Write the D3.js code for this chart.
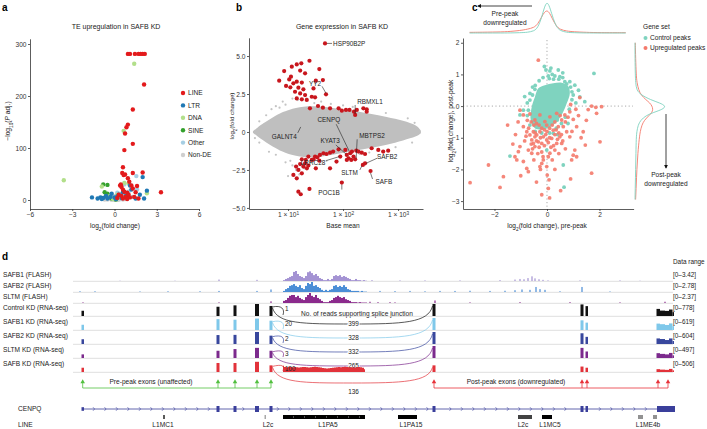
<!DOCTYPE html>
<html><head><meta charset="utf-8">
<script src="https://cdn.jsdelivr.net/npm/d3@7"></script>
<style>
body{margin:0;background:#fff;}
svg text{font-family:"Liberation Sans",Arial,Helvetica,sans-serif;}
</style></head><body>
<svg id="fig" width="707" height="429" xmlns="http://www.w3.org/2000/svg"></svg>
<script>
// ================= DATA =================
// ---- panel a : TE volcano ([log2FC, -log10 Padj]) ----
const teClasses = ["LINE","LTR","DNA","SINE","Other","Non-DE"];
const teNonDE = [[-0.5,1],[-0.3,2],[0,0.5],[0.2,1],[0.4,2],[0.1,3],[-0.1,1.5],[0.3,0.5],[0.6,1],[-0.2,0.3],[0.15,4],[0.45,6],[0.05,8],[0.8,2],[-0.7,1],[0.35,12],[0.55,3]];
const teOther = [[1.55,46],[1.6,20],[1.3,6],[0.2,14],[-0.3,9],[0.5,3],[1.0,16],[0.7,30]];
const teSINE = [[-0.8,30],[-0.5,29],[-0.7,15],[-0.5,12],[-0.4,5],[-0.2,3],[0,2],[0.1,1],[-0.6,8],[-0.9,4]];
const teDNA = [[1.4,262],[0.65,133],[-3.6,38],[0.7,33],[-0.9,26],[2.3,13],[0.4,5],[-0.4,7],[1.0,32],[-0.1,2],[0.2,10]];
const teLTR = [[-1.6,5],[-1.2,3],[-1.0,5],[-0.8,4],[-0.6,8],[-0.5,3],[-0.3,6],[0,5],[0.2,7],[0.3,10],[0.5,4],[0.8,8],[1.1,28],[1.2,20],[1.5,3],[2.0,44],[2.1,3],[2.3,18],[1.8,10],[0.6,15],[-0.2,12],[0.9,4],[-0.9,2],[0.1,2]];
const teLINE = [[0.95,281],[1.1,281],[1.45,281],[1.7,281],[1.85,281],[2.0,281],[2.15,281],[2.1,222],[1.3,174],[0.95,145],[0.85,140],[0.75,128],[1.3,108],[0.7,96],[0.6,63],[0.55,52],[0.75,49],[0.65,48],[1.3,52],[2.0,53],[0.95,42],[1.6,27],[3.3,15],[1.2,28],[0.4,28],[0.5,25],[0.6,20],[0.7,16],[0.9,14],[1.0,10],[0.3,10],[0.5,8],[0.8,6],[1.1,5],[0.2,4],[0.6,3],[1.4,6],[1.7,3],[0.9,2],[1.5,15],[1.3,22],[0.45,30],[1.05,35]];
const aXTicks = [-6,-3,0,3,6];
const aYTicks = [0,100,200,300];

// ---- panel b : MA plot ([baseMean, log2FC]) ----
const cloudBm = [2.3,2.8,3.5,5.4,7.9,10,19,38,76,155,310,620,1260,2200,2600];
const cloudUp = [0.05,0.3,0.55,1.0,1.3,1.45,1.7,1.7,1.55,1.4,1.2,1.0,0.75,0.45,0.08];
const cloudLo = [-0.05,-0.3,-0.55,-1.0,-1.3,-1.45,-1.7,-1.65,-1.45,-1.25,-1.05,-0.85,-0.55,-0.3,-0.08];
const grayPts = [[4,1.1],[5,1.5],[6,1.7],[8,2.0],[12,2.2],[15,2.1],[22,2.2],[9,-2.0],[12,-2.2],[14,-2.5],[11,-1.9],[18,-2.1],[3,0.7],[3,-0.7],[2.5,-0.4],[150,1.65],[600,1.25],[1500,0.9],[1800,-0.7],[300,-1.35],[40,2.0],[60,1.85],[25,-2.0],[7,1.6],[6,-1.5],[10,-2.9],[16,-2.8],[20,-2.4],[30,1.9],[100,1.75],[200,-1.45],[900,-1.0],[2000,0.6],[4.5,-1.3],[50,-1.9],[9,1.8]];
const redUp = [[47,5.83],[6.9,3.38],[8.5,4.01],[10.5,3.46],[11.7,4.30],[14.4,4.45],[17.4,4.52],[16.6,4.04],[24.5,4.69],[37,4.14],[43,3.42],[49,2.48],[9.2,3.03],[11,2.94],[12.5,3.20],[14.4,3.31],[15.4,2.92],[17.8,3.25],[19,2.81],[13.4,2.65],[16.6,2.54],[20.4,2.43],[14.4,2.21],[17.8,2.15],[21.9,2.11],[27,2.32],[31,2.28],[35,1.71],[25,1.56],[43,1.60],[58,1.56],[83,1.56],[95,1.40],[113,1.45],[131,1.45],[158,1.34],[178,1.45],[234,1.56],[269,1.49],[269,1.34],[166,1.12],[32,3.38],[11.3,3.64],[20.4,3.86],[29,2.87]];
const redDown = [[15.4,-2.50],[17.8,-1.80],[20.4,-2.06],[23.4,-1.62],[27,-1.84],[31,-1.62],[34,-1.67],[38,-1.51],[44,-1.40],[50,-1.45],[58,-1.36],[66,-1.29],[83,-1.14],[110,-1.18],[117,-1.51],[126,-1.73],[135,-1.40],[145,-1.29],[155,-1.62],[174,-1.23],[191,-1.29],[219,-1.36],[251,-1.45],[331,-1.07],[437,-1.18],[537,-1.29],[661,-1.23],[229,-2.17],[251,-2.06],[316,-2.57],[95,-3.33],[15.4,-3.93],[17,-4.10],[24.5,-3.75],[12.5,-2.83],[14.4,-3.05],[17.8,-2.72],[22,-2.39],[32,-2.39],[58,-2.39],[19,-2.28],[23.4,-2.21],[89,-1.62],[76,-1.95],[141,-1.84],[166,-1.80],[117,-1.84],[16.6,-2.11],[14,-2.28],[21,-1.84],[29,-1.80],[37,-1.89]];
const geneNames = ["HSP90B2P","YY2","RBMXL1","CENPQ","GALNT4","KYAT3","MBTPS2","LRRC28","SAFB2","SLTM","SAFB","POC1B"];
const geneBm  = [47,49,166,135,17,117,166,89,251,229,316,95];
const geneLfc = [5.83,2.48,1.12,-1.40,0.4,-1.51,-1.80,-1.62,-2.06,-2.17,-2.57,-3.33];
const bXTicks = [10,100,1000];
const bYTicks = [-5,-2.5,0,2.5,5];

// ---- panel c : pre vs post peak ([pre, post]) ----
const coreX = [-0.46,-0.33,-0.08,0.24,0.56,0.81,0.87,0.75,0.62,0.43,0.18,-0.14,-0.46,-0.62,-0.58];
const coreY = [0.29,0.56,0.66,0.72,0.74,0.63,0.40,0.08,-0.18,-0.44,-0.63,-0.74,-0.70,-0.44,-0.02];
const ctrlPts = [[-0.04,1.14],[0.11,1.11],[0.43,1.14],[1.79,1.03],[0.09,0.87],[0.68,0.77],[0.87,0.77],[1.06,0.66],[1.25,0.29],[1.44,0.14],[-0.90,-0.13],[-1.03,-0.28],[-0.46,0.53],[-0.65,0.19],[-0.71,-0.13],[0.39,-0.44],[-1.41,-1.58],[0.62,-1.86],[0.65,-2.56],[0.49,0.93],[0.75,0.56],[-0.39,-0.65],[0.24,-0.86],[-0.01,-1.39],[0.3,0.95],[0.95,0.45],[-0.55,0.35],[1.1,0.1],[0.2,1.0],
  [-0.3,0.8],[-0.15,0.9],[0.05,0.95],[0.25,0.85],[0.45,0.85],[0.6,0.9],[0.75,0.7],[0.9,0.6],[1.0,0.35],[0.95,0.2],[0.85,-0.1],[0.7,-0.35],[0.55,-0.55],[0.35,-0.7],[0.1,-0.85],[-0.2,-0.85],[-0.45,-0.8],[-0.65,-0.6],[-0.75,-0.3],[-0.75,0.1],[-0.65,0.4],[-0.45,0.65],[-0.55,0.6],[0.15,1.2],[-0.1,1.25],[0.6,1.05],[1.2,0.5],[-0.85,0.3],[0.8,-0.55],[0.4,-0.9]];
const upPts = [[-0.33,1.45],[1.25,0.27],[1.70,0.00],[1.86,-0.04],[2.08,-0.02],[1.57,-0.11],[1.89,-0.23],[-1.03,-0.13],[-0.90,-0.28],[0.87,-0.18],[0.68,-0.28],[0.56,-0.44],[0.37,-0.23],[1.00,-0.42],[1.13,-0.65],[1.38,-0.81],[2.02,-1.13],[1.46,-1.23],[1.06,-1.39],[1.00,-1.55],[0.94,-1.70],[1.13,-1.60],[0.49,-0.97],[0.56,-1.18],[0.37,-1.18],[0.30,-1.39],[0.11,-1.49],[0.05,-1.60],[-0.14,-1.70],[-0.20,-1.81],[-0.27,-1.91],[-0.71,-1.39],[-0.58,-1.49],[-1.03,-1.28],[-1.09,-1.44],[-1.22,-1.60],[-1.15,-1.70],[-0.77,-1.97],[-0.71,-2.07],[-1.66,-2.23],[-1.79,-2.57],[-2.23,-1.86],[-2.93,-2.42],[-0.01,-1.91],[0.01,-2.18],[0.08,-2.33],[0.52,-2.67],[1.70,-2.12],[-0.39,-0.91],[-0.27,-0.81],[-0.46,-0.97],[-0.58,-1.07],[-0.65,-0.91],[-0.77,-0.81],[-0.52,-0.81],[-0.14,-0.97],[-0.01,-1.07],[0.18,-1.02],[-0.33,-1.13],[-0.20,-1.18],[-0.52,-1.18],[-0.46,-1.28],[0.24,-0.76],[-0.01,-0.60],[0.43,-0.65],[0.62,-0.65],[0.75,-0.81],[0.87,-0.97],[-0.90,-0.65],[-0.46,-0.44],[-0.27,-0.28],[0.11,-0.34],[-0.08,-0.49],
  [-0.6,-0.5],[-0.5,-0.6],[-0.4,-0.55],[-0.3,-0.6],[-0.2,-0.7],[-0.1,-0.75],[0.0,-0.8],[0.1,-0.7],[0.2,-0.6],[0.3,-0.5],[0.35,-0.75],[0.45,-0.85],[0.55,-0.9],[-0.7,-0.7],[-0.8,-0.95],[-0.85,-1.1],[-0.6,-1.2],[-0.4,-1.1],[-0.3,-1.3],[-0.1,-1.25],[0.05,-1.15],[0.15,-1.3],[0.25,-1.25],[0.4,-1.05],[-0.2,-1.45],[-0.35,-1.5],[-0.55,-1.35],[0.1,-1.0],[-0.05,-0.9],[-0.25,-1.0],[-0.45,-0.85],[0.3,-0.9],[0.6,-1.1],[0.7,-0.5],[0.8,-0.35],[0.5,-0.3],[-0.65,-0.25],[-0.75,-0.45],[-1.2,-0.9],[-1.3,-1.2],[-1.5,-0.6],[-1.1,-0.5],[0.95,-0.8],[1.2,-0.3],[1.5,-0.45],[-0.15,-1.6],[0.2,-1.7],[0.45,-1.5],[-0.9,-1.75],[-0.5,-1.7],[0.7,-1.35],[1.3,-1.0],[-0.25,-2.0],[0.3,-2.0],[-1.0,-2.2],[0.9,-2.3],[-0.4,-2.4],[0.05,-2.6],[-0.2,-2.8],[0.1,-2.9],[0.9,0.05],[1.1,-0.1]];
const topDensX = [-2.95,-2,-1.5,-1,-0.75,-0.5,-0.35,-0.2,-0.1,0,0.1,0.2,0.35,0.5,0.75,1,1.5,2,3.0];
const topDensCtrl = [0,0,0,0.01,0.02,0.06,0.16,0.5,0.82,1.0,0.84,0.55,0.2,0.07,0.02,0.01,0,0,0];
const topDensUp = [0.02,0.03,0.04,0.08,0.12,0.17,0.28,0.52,0.66,0.72,0.64,0.46,0.22,0.11,0.06,0.04,0.02,0.01,0.01];
const rightDensY = [2.0,1.5,1.0,0.75,0.5,0.35,0.2,0.1,0,-0.1,-0.2,-0.3,-0.45,-0.6,-0.8,-1.0,-1.5,-2,-2.5,-2.95];
const rightDensCtrl = [0,0,0.01,0.02,0.05,0.2,0.5,0.8,1.0,0.9,0.6,0.35,0.18,0.1,0.06,0.04,0.03,0.02,0.01,0];
const rightDensUp = [0.01,0.02,0.04,0.06,0.12,0.2,0.35,0.48,0.55,0.58,0.55,0.45,0.3,0.22,0.17,0.14,0.09,0.06,0.04,0.02];
const cXTicks = [-2,0,2];
const cYTicks = [-3,-2,-1,0,1,2];

// ---- panel d : genome browser (positions in kb) ----
const flashStartKb = 21.0, flashStepKb = 0.2;
const flashSAFB1 = [0.3,0.7,1.0,1.4,1.7,3.1,3.42,2.4,1.7,1.4,1.0,1.7,3.0,3.3,2.7,2.0,2.4,1.7,1.0,0.7,0.3,0.3,0.7,0.3,0.7,1.7,2.0,1.7,2.0,1.4,1.7,1.4,1.0,0.7,0.3,0.3,0.7,0.3,0.3,0.1,0.3,0.1];
const flashSAFB2 = [0.3,0.8,1.1,1.7,1.9,2.2,1.7,1.4,1.9,1.1,0.8,1.7,2.5,2.2,2.78,1.7,1.9,1.4,1.1,0.6,0.3,0.6,0.3,0.6,0.8,1.7,1.9,1.4,1.7,1.4,1.9,1.4,0.8,0.6,0.3,0.3,0.3,0.3,0.1,0.3,0.1,0.1];
const flashSLTM = [0.5,0.7,1.2,1.7,1.9,1.9,1.4,1.7,1.2,0.9,0.7,1.4,1.9,2.37,1.7,1.4,1.9,1.2,0.9,0.5,0.2,0.2,0.2,0.5,0.7,1.2,1.4,1.7,1.4,1.2,1.4,0.9,0.7,0.5,0.2,0.2,0.2,0.1,0.2,0.1,0.1,0.1];
const flashSAFB1Sparse = [[14.6,0.5],[18.4,0.4],[29.9,0.3],[32.7,0.2],[35.2,0.2],[38.7,0.2],[42.7,0.3],[44.2,0.5],[44.7,0.7],[45.1,0.6],[45.5,1.0],[45.9,1.6],[46.2,0.9],[46.6,0.6],[47.0,0.4],[47.5,0.2],[50.7,0.2],[54.7,0.2],[56.7,0.1],[4.7,0.1],[10.2,0.1]];
const flashSAFB2Sparse = [[0.7,0.2],[2.2,0.2],[6.7,0.15],[9.5,0.2],[12.7,0.2],[14.6,0.3],[18.4,0.3],[19.8,0.7],[30.7,0.3],[32.2,0.25],[33.7,0.3],[35.2,0.2],[36.7,0.3],[38.2,0.3],[39.7,0.35],[41.7,0.3],[43.2,0.35],[44.2,0.5],[44.9,0.7],[45.7,0.6],[46.3,1.4],[46.7,0.8],[47.2,0.6],[50.9,1.4],[48.7,0.2],[53.7,0.15]];
const flashSLTMSparse = [[19.8,0.4],[29.7,0.3],[30.5,0.2],[31.7,0.2],[36.2,0.6],[39.7,0.15],[44.7,0.2],[49.7,0.2],[54.7,0.15],[59.2,0.3],[32.2,0.15],[1.0,0.15],[14.6,0.15]];
const exonStartKb = [0.85,14.35,16.05,18.2,19.65,35.95,50.75,51.25,58.35,58.7,59.2,59.6,59.95];
const exonEndKb   = [1.1,14.65,16.35,18.6,19.95,36.25,51.05,51.5,58.7,59.2,59.6,59.95,60.1];
const covControl = [340,600,690,778,650,778,750,640,460,350,330,420,250];
const covSAFB1   = [270,560,530,590,480,619,500,380,330,300,260,340,200];
const covSAFB2   = [240,450,460,604,420,604,540,360,280,250,200,280,150];
const covSLTM    = [150,300,370,420,300,497,420,270,200,170,150,210,110];
const covSAFB    = [180,380,380,430,280,280,230,180,120,100,90,130,70];
const intronSAFB = [260,210,200,220,215,205,210,200,190,205,215,210,200,195,205,215,220,210,200,190,170,160,150,155,165,180,195,205,210,200,215,220,210,205,200,195,190,205,210,200,180,120];
const shortJunction = [1,20,2,3,100];
const longJunction = [399,328,332,265,136];
const preExonKb = [0.97,14.5,16.2,18.4,19.8];
const postExonKb = [36.1,50.9,51.4,58.5,59.5];
const geneStartKb = 0.9, geneEndKb = 60.2;
const geneExonStart = [0.85,14.35,16.05,18.2,19.65,35.95,50.75,51.25,58.4];
const geneExonEnd   = [1.1,14.65,16.35,18.6,19.95,36.25,51.05,51.5,60.2];
const lineStart = [9.0,19.15,21.0,32.5,44.5,46.9,56.5,58.0];
const lineEnd   = [9.2,19.3,29.2,34.4,45.9,47.9,57.0,58.4];
const lineScore = [0.6,0.25,1,1,0.7,1,0.35,0.35];
const lineLabelTxt = ["L1MC1","L2c","L1PA5","L1PA15","L2c","L1MC5","L1ME4b"];
const lineLabelKb = [9.0,19.5,25.5,33.8,45.0,47.7,57.5];

// ================= DRAWING =================
const svg = d3.select("#fig");
const INK = "#222";
const FONT = "Liberation Sans, Arial, sans-serif";

function rich(parent, x, y, parts, o = {}) {
  const t = parent.append("text").attr("x", x).attr("y", y)
    .attr("font-size", o.size || 6.6).attr("fill", o.fill || INK)
    .attr("text-anchor", o.anchor || "start");
  if (o.weight) t.attr("font-weight", o.weight);
  if (o.rotate) t.attr("transform", `rotate(${o.rotate},${x},${y})`);
  if (o.dy) t.attr("dy", o.dy);
  (typeof parts === "string" ? [[parts, ""]] : parts).forEach(([s, st]) => {
    const sp = t.append("tspan").text(s);
    if (st === "sub") sp.attr("baseline-shift", "sub").attr("font-size", "0.72em");
    if (st === "sup") sp.attr("baseline-shift", "super").attr("font-size", "0.72em");
    if (st === "i") sp.attr("font-style", "italic");
  });
  return t;
}
function styleAxis(g) {
  g.attr("font-family", FONT).attr("font-size", 6.6);
  g.selectAll("path.domain").attr("stroke", "#333").attr("stroke-width", 0.8);
  g.selectAll(".tick line").attr("stroke", "#333").attr("stroke-width", 0.8);
  g.selectAll(".tick text").attr("fill", "#333");
}
const minus = d => (d < 0 ? "\u2212" + Math.abs(d) : "" + d);

[["a",2,11],["b",236,11],["c",472,11],["d",2,260]].forEach(([l,x,y]) =>
  rich(svg, x, y, l, {size: 10, weight: "bold", fill: "#000"}));

// ---------- panel a ----------
{
  const g = svg.append("g");
  const x = d3.scaleLinear().domain([-6, 6]).range([30, 199]);
  const y = d3.scaleLinear().domain([-17.3, 310]).range([209, 38.8]);
  g.append("g").attr("transform", "translate(0,209)")
    .call(d3.axisBottom(x).tickValues(aXTicks).tickSize(2).tickSizeOuter(0).tickPadding(1.5).tickFormat(minus)).call(styleAxis);
  g.append("g").attr("transform", "translate(30,0)")
    .call(d3.axisLeft(y).tickValues(aYTicks).tickSize(2).tickSizeOuter(0).tickPadding(1.5)).call(styleAxis);
  rich(g, 116, 29, "TE upregulation in SAFB KD", {anchor: "middle", size: 7});
  rich(g, 115, 228, [["log",""],["2","sub"],["(fold change)",""]], {anchor: "middle"});
  rich(g, 10, 121, [["\u2212log",""],["10","sub"],["(",""],["P","i"],[" adj.)",""]], {anchor: "middle", rotate: -90});
  const sets = [teNonDE, teOther, teSINE, teDNA, teLTR, teLINE];
  const cols = {"LINE":"#e31a1c","LTR":"#1f78b4","DNA":"#b2df8a","SINE":"#33a02c","Other":"#a6cee3","Non-DE":"#cfcfcf"};
  const names = ["Non-DE","Other","SINE","DNA","LTR","LINE"];
  sets.forEach((s, i) => {
    g.append("g").selectAll("circle").data(s).join("circle")
      .attr("cx", d => x(d[0])).attr("cy", d => y(d[1])).attr("r", 2.2)
      .attr("fill", cols[names[i]]);
  });
  const ly = d3.scalePoint().domain(teClasses).range([93, 155]);
  teClasses.forEach(c => {
    g.append("circle").attr("cx", 183).attr("cy", ly(c)).attr("r", 2.2).attr("fill", cols[c]);
    rich(g, 188, ly(c), c, {dy: "0.35em"});
  });
}

// ---------- panel b ----------
{
  const g = svg.append("g");
  const x = d3.scaleLog().domain([1.95, 2840]).range([249, 423]);
  const y = d3.scaleLinear().domain([-5.07, 6.2]).range([209, 37.8]);
  const xa = g.append("g").attr("transform", "translate(0,209)")
    .call(d3.axisBottom(x).tickValues(bXTicks).tickSize(2).tickSizeOuter(0).tickPadding(1.5).tickFormat(() => "")).call(styleAxis);
  xa.selectAll(".tick text").each(function(d) {
    const t = d3.select(this);
    t.append("tspan").text("1 \u00d7 10");
    t.append("tspan").text(Math.round(Math.log10(d))).attr("baseline-shift", "super").attr("font-size", "0.72em");
  });
  g.append("g").attr("transform", "translate(249,0)")
    .call(d3.axisLeft(y).tickValues(bYTicks).tickSize(2).tickSizeOuter(0).tickPadding(1.5)
      .tickFormat(d => d === 0 ? "0" : (d < 0 ? "\u2212" : "") + Math.abs(d).toFixed(1))).call(styleAxis);
  rich(g, 342, 29, "Gene expression in SAFB KD", {anchor: "middle", size: 7});
  rich(g, 343, 228, "Base mean", {anchor: "middle"});
  rich(g, 234, 116, [["log",""],["2","sub"],["(fold change)",""]], {anchor: "middle", rotate: -90, size: 6.2});
  const area = d3.area().curve(d3.curveBasis)
    .x((d, i) => x(cloudBm[i])).y0((d, i) => y(cloudLo[i])).y1((d, i) => y(cloudUp[i]));
  g.append("path").datum(cloudBm).attr("d", area).attr("fill", "#bfbfbf");
  g.append("g").selectAll("circle").data(grayPts).join("circle")
    .attr("cx", d => x(d[0])).attr("cy", d => y(d[1])).attr("r", 1.1).attr("fill", "#c4c4c4");
  g.append("g").selectAll("circle").data(redUp.concat(redDown)).join("circle")
    .attr("cx", d => x(d[0])).attr("cy", d => y(d[1])).attr("r", 2.1).attr("fill", "#c8161d");
  const lay = {
    "HSP90B2P":[8,0,"start",2,0,7,0],
    "YY2":[-5,-11,"end",-4,-8,0,-1],
    "RBMXL1":[2,-13,"start",0,-10,0,-1],
    "CENPQ":[-10,-33,"end",-14,-29,-1,-2],
    "GALNT4":[-4,11,"end",-3,7,0,1],
    "KYAT3":[-7,-14,"end",-11,-10,-1,-1],
    "MBTPS2":[4,-24,"start",2,-20,1,-1],
    "LRRC28":[-15,6,"end",-14,4,-1,0],
    "SAFB2":[12,-7,"start",12,-5,1,0],
    "SLTM":[-5,8,"end",-3,5,-1,1],
    "SAFB":[5,11,"start",2,8,0,2],
    "POC1B":[-2,10,"end",0,7,0,2]
  };
  geneNames.forEach((n, i) => {
    const px = x(geneBm[i]), py = y(geneLfc[i]);
    const L = lay[n];
    g.append("line").attr("x1", px + L[3]).attr("y1", py + L[4]).attr("x2", px + L[5]).attr("y2", py + L[6])
      .attr("stroke", "#222").attr("stroke-width", 0.6);
    rich(g, px + L[0], py + L[1], n, {anchor: L[2], dy: "0.35em", size: 6.4});
  });
}

// ---------- panel c ----------
{
  const g = svg.append("g");
  const x = d3.scaleLinear().domain([-3.2, 3.3]).range([463, 633.6]);
  const y = d3.scaleLinear().domain([-3.25, 2.15]).range([209, 38]);
  const teal = "#7fd3bf", salmon = "#f47a6c";
  g.append("line").attr("x1", x(0)).attr("x2", x(0)).attr("y1", 40).attr("y2", 209)
    .attr("stroke", "#aaa").attr("stroke-dasharray", "1.2,2.4").attr("stroke-width", 1);
  g.append("line").attr("x1", 463).attr("x2", 633).attr("y1", y(0)).attr("y2", y(0))
    .attr("stroke", "#aaa").attr("stroke-dasharray", "1.2,2.4").attr("stroke-width", 1);
  g.append("g").attr("transform", "translate(0,209)")
    .call(d3.axisBottom(x).tickValues(cXTicks).tickSize(2).tickSizeOuter(0).tickPadding(1.5).tickFormat(minus)).call(styleAxis);
  g.append("g").attr("transform", "translate(463,0)")
    .call(d3.axisLeft(y).tickValues(cYTicks).tickSize(2).tickSizeOuter(0).tickPadding(1.5).tickFormat(minus)).call(styleAxis);
  rich(g, 547, 228, [["log",""],["2","sub"],["(fold change), pre-peak",""]], {anchor: "middle"});
  rich(g, 453, 121, [["log",""],["2","sub"],["(fold change), post-peak",""]], {anchor: "middle", rotate: -90});
  const core = d3.line().curve(d3.curveCatmullRomClosed).x((d, i) => x(coreX[i])).y((d, i) => y(coreY[i]));
  g.append("path").datum(coreX).attr("d", core).attr("fill", teal);
  g.append("g").selectAll("circle").data(ctrlPts).join("circle")
    .attr("cx", d => x(d[0])).attr("cy", d => y(d[1])).attr("r", 1.9).attr("fill", teal);
  g.append("g").selectAll("circle").data(upPts).join("circle")
    .attr("cx", d => x(d[0])).attr("cy", d => y(d[1])).attr("r", 1.9).attr("fill", salmon).attr("opacity", 0.9);
  const td = d3.scaleLinear().domain([0, 1]).range([33, 1.5]);
  const topLine = arr => d3.line().curve(d3.curveBasis).x((d, i) => x(topDensX[i])).y((d, i) => td(arr[i]));
  g.append("path").datum(topDensUp).attr("d", topLine(topDensUp)).attr("fill", "none").attr("stroke", salmon).attr("stroke-width", 0.9);
  g.append("path").datum(topDensCtrl).attr("d", topLine(topDensCtrl)).attr("fill", "none").attr("stroke", teal).attr("stroke-width", 0.9);
  const rd = d3.scaleLinear().domain([0, 1]).range([635, 666]);
  const rLine = arr => d3.line().curve(d3.curveBasis).x((d, i) => rd(arr[i])).y((d, i) => y(rightDensY[i]));
  g.append("path").attr("d", rLine(rightDensUp)(rightDensY)).attr("fill", "none").attr("stroke", salmon).attr("stroke-width", 0.9);
  g.append("path").attr("d", rLine(rightDensCtrl)(rightDensY)).attr("fill", "none").attr("stroke", teal).attr("stroke-width", 0.9);
  const defs = svg.append("defs");
  defs.append("marker").attr("id", "ah").attr("viewBox", "0 0 10 10").attr("refX", 8).attr("refY", 5)
    .attr("markerWidth", 5).attr("markerHeight", 5).attr("orient", "auto")
    .append("path").attr("d", "M0,0L10,5L0,10z").attr("fill", "#111");
  g.append("line").attr("x1", 532).attr("y1", 6).attr("x2", 478).attr("y2", 6).attr("stroke", "#111").attr("stroke-width", 0.8).attr("marker-end", "url(#ah)");
  rich(g, 505, 16, "Pre-peak", {anchor: "middle"});
  rich(g, 505, 25, "downregulated", {anchor: "middle"});
  g.append("line").attr("x1", 666).attr("y1", 114).attr("x2", 666).attr("y2", 168).attr("stroke", "#111").attr("stroke-width", 0.8).attr("marker-end", "url(#ah)");
  rich(g, 666, 177, "Post-peak", {anchor: "middle"});
  rich(g, 666, 186, "downregulated", {anchor: "middle"});
  rich(g, 643, 29, "Gene set");
  g.append("circle").attr("cx", 645.5).attr("cy", 38).attr("r", 2).attr("fill", teal);
  rich(g, 650, 38, "Control peaks", {dy: "0.35em"});
  g.append("circle").attr("cx", 645.5).attr("cy", 48).attr("r", 2).attr("fill", salmon);
  rich(g, 650, 48, "Upregulated peaks", {dy: "0.35em"});
}

// ---------- panel d ----------
{
  const g = svg.append("g");
  const gx = d3.scaleLinear().domain([0, 60]).range([73, 673]);
  const binW = gx(flashStepKb) - gx(0);
  rich(g, 673, 264, "Data range", {size: 6.4});
  const flash = [
    {name: "SAFB1 (FLASH)", vals: flashSAFB1, sp: flashSAFB1Sparse, max: 3.42, color: "#a493d3", base: 281, h: 10},
    {name: "SAFB2 (FLASH)", vals: flashSAFB2, sp: flashSAFB2Sparse, max: 2.78, color: "#4b8ed6", base: 292, h: 10},
    {name: "SLTM (FLASH)", vals: flashSLTM, sp: flashSLTMSparse, max: 2.37, color: "#8b2a8c", base: 303, h: 10}
  ];
  flash.forEach(t => {
    const ys = d3.scaleLinear().domain([0, t.max]).range([t.base, t.base - t.h]);
    g.append("line").attr("x1", 73).attr("x2", 673).attr("y1", t.base + 0.3).attr("y2", t.base + 0.3).attr("stroke", "#c8c8c8").attr("stroke-width", 0.6);
    g.append("g").selectAll("rect").data(t.vals).join("rect")
      .attr("x", (d, i) => gx(flashStartKb + i * flashStepKb)).attr("width", binW)
      .attr("y", d => ys(d)).attr("height", d => t.base - ys(d)).attr("fill", t.color);
    g.append("g").selectAll("rect").data(t.sp).join("rect")
      .attr("x", d => gx(d[0]) - 0.6).attr("width", 1.2)
      .attr("y", d => ys(d[1])).attr("height", d => t.base - ys(d[1])).attr("fill", t.color);
    rich(g, 3, t.base - 4, t.name, {size: 6.6});
    rich(g, 673, t.base - 4, "[0\u2013" + t.max + "]", {size: 6.4});
  });
  const rna = [
    {name: "Control KD (RNA-seq)", cov: covControl, max: 778, color: "#111111", base: 316},
    {name: "SAFB1 KD (RNA-seq)", cov: covSAFB1, max: 619, color: "#7fc8ea", base: 330},
    {name: "SAFB2 KD (RNA-seq)", cov: covSAFB2, max: 604, color: "#38479d", base: 344},
    {name: "SLTM KD (RNA-seq)", cov: covSLTM, max: 497, color: "#7c2a8d", base: 358},
    {name: "SAFB KD (RNA-seq)", cov: covSAFB, max: 506, color: "#e2323a", base: 372}
  ];
  rich(g, 357, 314, "No. of reads supporting splice junction", {anchor: "middle", size: 6.6, dy: "0.35em"});
  rna.forEach((t, k) => {
    const ys = d3.scaleLinear().domain([0, t.max]).range([t.base, t.base - 12]);
    g.append("line").attr("x1", 73).attr("x2", 673).attr("y1", t.base + 0.3).attr("y2", t.base + 0.3).attr("stroke", "#c8c8c8").attr("stroke-width", 0.6);
    g.append("g").selectAll("rect").data(t.cov).join("rect")
      .attr("x", (d, i) => gx(exonStartKb[i])).attr("width", (d, i) => gx(exonEndKb[i]) - gx(exonStartKb[i]))
      .attr("y", d => ys(d)).attr("height", d => t.base - ys(d)).attr("fill", t.color);
    if (k === 4) {
      const ar = d3.area().curve(d3.curveStep)
        .x((d, i) => gx(flashStartKb + i * flashStepKb)).y0(t.base).y1(d => ys(d));
      g.append("path").datum(intronSAFB).attr("d", ar).attr("fill", t.color);
    }
    const x5 = gx(exonEndKb[4]), x6 = gx(exonStartKb[5]), xi = gx(flashStartKb);
    const top5 = ys(t.cov[4]), top6 = ys(t.cov[5]);
    g.append("path").attr("d", `M${x5},${top5 + 1} C${x5 + 9},${top5 - 1} ${xi + 2},${t.base - 7} ${xi},${t.base - 1}`)
      .attr("fill", "none").attr("stroke", t.color).attr("stroke-width", 0.7);
    rich(g, xi + 2, top5 + 3, "" + shortJunction[k], {size: 6.4, dy: "0.35em"});
    const dep = k === 4 ? 11 : 8;
    const mid = (x5 + x6) / 2;
    g.append("path").attr("d", `M${x5},${top5 + 2} C${x5 + 5},${t.base + dep} ${x5 + 30},${t.base + dep} ${mid},${t.base + dep} C${x6 - 30},${t.base + dep} ${x6 - 4},${t.base + dep - 1} ${x6},${top6 + 2}`)
      .attr("fill", "none").attr("stroke", t.color).attr("stroke-width", 0.7);
    const lab = rich(g, mid + 1, t.base + (k === 4 ? 20 : dep), "" + longJunction[k], {anchor: "middle", size: 6.4, dy: "0.35em"});
    if (k !== 4) lab.attr("stroke", "#fff").attr("stroke-width", 2).attr("paint-order", "stroke");
    rich(g, 3, t.base - 6, t.name, {size: 6.6});
    rich(g, 673, t.base - 6, "[0\u2013" + t.max + "]", {size: 6.4});
  });
  const triY = 382, brY = 388;
  const tri = d3.symbol().type(d3.symbolTriangle).size(9);
  [[preExonKb, "#52c03f", "Pre-peak exons (unaffected)", 151], [postExonKb, "#e8333a", "Post-peak exons (downregulated)", 516]].forEach(([kb, col, label, lx]) => {
    g.append("line").attr("x1", gx(kb[0])).attr("x2", gx(kb[kb.length - 1])).attr("y1", brY).attr("y2", brY).attr("stroke", col).attr("stroke-width", 0.8);
    g.append("g").selectAll("path").data(kb).join("path").attr("d", tri)
      .attr("transform", d => `translate(${gx(d)},${triY})`).attr("fill", col);
    g.append("g").selectAll("line").data(kb).join("line")
      .attr("x1", d => gx(d)).attr("x2", d => gx(d)).attr("y1", triY).attr("y2", brY).attr("stroke", col).attr("stroke-width", 0.8);
    rich(g, lx, triY, label, {anchor: "middle", size: 6.6, dy: "0.35em"});
  });
  const gy = 409, gcol = "#3a3f9b";
  g.append("line").attr("x1", gx(geneStartKb)).attr("x2", gx(geneEndKb)).attr("y1", gy).attr("y2", gy).attr("stroke", gcol).attr("stroke-width", 0.8);
  const chev = d3.range(geneStartKb + 1.2, geneEndKb - 1.5, 1.15).filter(kb => !geneExonStart.some((s, i) => kb > s - 0.4 && kb < geneExonEnd[i] + 0.4));
  g.append("g").selectAll("path").data(chev).join("path")
    .attr("d", kb => `M${gx(kb) - 1},${gy - 1.8} L${gx(kb) + 0.6},${gy} L${gx(kb) - 1},${gy + 1.8}`)
    .attr("fill", "none").attr("stroke", gcol).attr("stroke-width", 0.6);
  g.append("g").selectAll("rect").data(geneExonStart).join("rect")
    .attr("x", d => gx(d)).attr("width", (d, i) => Math.max(1.2, gx(geneExonEnd[i]) - gx(d)))
    .attr("y", (d, i) => i === 0 ? gy - 1.8 : gy - 3).attr("height", (d, i) => i === 0 ? 3.6 : 6).attr("fill", gcol);
  rich(g, 18, gy, "CENPQ", {size: 6.6, dy: "0.35em"});
  const ry = 417;
  const shade = d3.scaleLinear().domain([0, 1]).range(["#e0e0e0", "#000"]);
  g.append("g").selectAll("rect").data(lineStart).join("rect")
    .attr("x", d => gx(d)).attr("width", (d, i) => Math.max(1.5, gx(lineEnd[i]) - gx(d)))
    .attr("y", ry - 2).attr("height", 4).attr("fill", (d, i) => shade(lineScore[i]));
  g.append("g").selectAll("line").data(d3.range(22, 29, 1.1)).join("line")
    .attr("x1", d => gx(d)).attr("x2", d => gx(d) + 0.8).attr("y1", ry).attr("y2", ry).attr("stroke", "#fff").attr("stroke-width", 0.8);
  lineLabelTxt.forEach((n, i) => rich(g, gx(lineLabelKb[i]), 425, n, {anchor: "middle", size: 6.6, dy: "0.35em"}));
  rich(g, 18, 425, "LINE", {size: 6.6, dy: "0.35em"});
}
</script>
</body></html>
